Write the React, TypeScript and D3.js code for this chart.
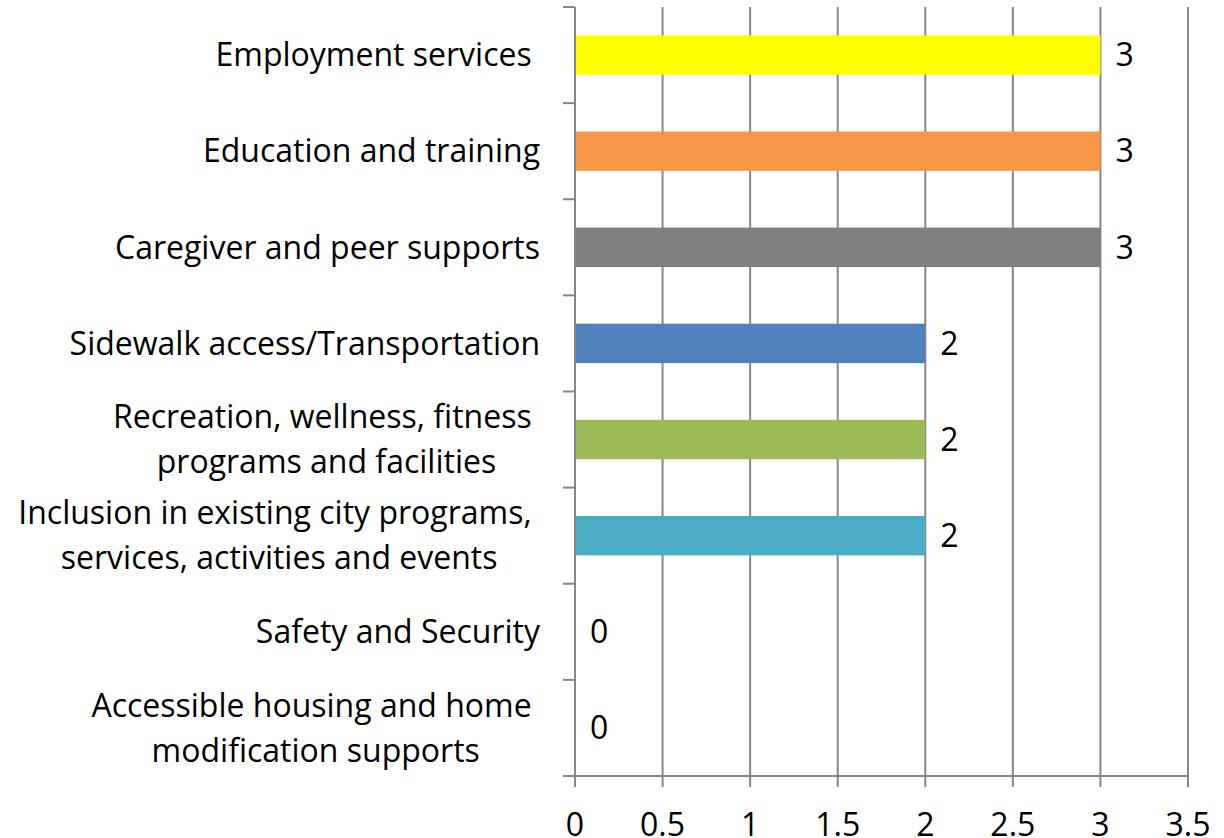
import React, { useEffect, useRef } from 'react';
import * as d3 from 'd3';

// category labels, top to bottom, already wrapped into lines as in the picture
const categories: string[][] = [
  ['Employment services '],
  ['Education and training'],
  ['Caregiver and peer supports'],
  ['Sidewalk access/Transportation'],
  ['Recreation, wellness, fitness ', 'programs and facilities'],
  ['Inclusion in existing city programs, ', 'services, activities and events'],
  ['Safety and Security'],
  ['Accessible housing and home ', 'modification supports'],
];
const values = [3, 3, 3, 2, 2, 2, 0, 0];
const barColors = ['#FFFF00', '#F79646', '#7F7F7F', '#4F81BD', '#9BBB59', '#4BACC6', '#C0504D', '#8064A2'];
const xTicks = [0, 0.5, 1, 1.5, 2, 2.5, 3, 3.5];

const App = () => {
  const ref = useRef<SVGSVGElement | null>(null);

  useEffect(() => {
    document.body.style.margin = '0';
    const width = 1224;
    const height = 838;
    const margin = { top: 7, right: 36, bottom: 62, left: 575 };
    const font = '"Open Sans", sans-serif';
    const fontSize = 32;
    const axisColor = '#868686';

    const svg = d3.select(ref.current);
    svg.selectAll('*').remove();
    svg.attr('width', width).attr('height', height);

    const x = d3.scaleLinear().domain([0, 3.5]).range([margin.left, width - margin.right]);
    const y = d3.scaleBand<number>()
      .domain(d3.range(categories.length))
      .range([margin.top, height - margin.bottom])
      .paddingInner(0.59)
      .paddingOuter(0.295);
    const step = y.step();
    const top = margin.top;
    const bottom = height - margin.bottom;

    // vertical gridlines
    svg.append('g')
      .selectAll('line')
      .data(xTicks.slice(1))
      .join('line')
      .attr('x1', d => x(d)).attr('x2', d => x(d))
      .attr('y1', top).attr('y2', bottom + 11)
      .attr('stroke', axisColor).attr('stroke-width', 2);

    // bars
    svg.append('g')
      .selectAll('rect')
      .data(values)
      .join('rect')
      .attr('x', x(0))
      .attr('y', (d, i) => y(i)!)
      .attr('width', d => x(d) - x(0))
      .attr('height', y.bandwidth())
      .attr('fill', (d, i) => barColors[i]);

    // y axis line + ticks
    svg.append('line')
      .attr('x1', x(0)).attr('x2', x(0))
      .attr('y1', top).attr('y2', bottom + 11)
      .attr('stroke', axisColor).attr('stroke-width', 2);
    svg.append('g')
      .selectAll('line')
      .data(d3.range(categories.length + 1))
      .join('line')
      .attr('x1', x(0) - 12).attr('x2', x(0))
      .attr('y1', i => top + i * step).attr('y2', i => top + i * step)
      .attr('stroke', axisColor).attr('stroke-width', 2);

    // x axis line
    svg.append('line')
      .attr('x1', x(0) - 12).attr('x2', x(3.5))
      .attr('y1', bottom).attr('y2', bottom)
      .attr('stroke', axisColor).attr('stroke-width', 2);

    // x tick labels (partly cut by the bottom edge, as in the original)
    svg.append('g')
      .selectAll('text')
      .data(xTicks)
      .join('text')
      .attr('x', d => x(d))
      .attr('y', bottom + 60)
      .attr('text-anchor', 'middle')
      .style('font-family', font)
      .style('font-size', `${fontSize}px`)
      .attr('fill', '#000')
      .text(d => String(d));

    // category labels (multi-line labels centred on each other, block right-aligned)
    const lineH = 45;
    const labelRight = x(0) - 35;
    categories.forEach((lines, i) => {
      const cy = y(i)! + y.bandwidth() / 2;
      const g = svg.append('g');
      const texts = g.selectAll('text')
        .data(lines)
        .join('text')
        .attr('y', (d, j) => cy + (j - (lines.length - 1) / 2) * lineH)
        .attr('dy', '0.35em')
        .attr('text-anchor', 'middle')
        .style('white-space', 'pre')
        .style('font-family', font)
        .style('font-size', `${fontSize}px`)
        .attr('fill', '#000')
        .text(d => d);
      let maxW = 0;
      texts.each(function () {
        maxW = Math.max(maxW, (this as SVGTextElement).getComputedTextLength());
      });
      texts.attr('x', labelRight - maxW / 2);
    });

    // value labels
    svg.append('g')
      .selectAll('text')
      .data(values)
      .join('text')
      .attr('x', d => x(d) + 15)
      .attr('y', (d, i) => y(i)! + y.bandwidth() / 2)
      .attr('dy', '0.35em')
      .style('font-family', font)
      .style('font-size', `${fontSize}px`)
      .attr('fill', '#000')
      .text(d => String(d));
  }, []);

  return <svg ref={ref} style={{ display: 'block' }} />;
};

export default App;
